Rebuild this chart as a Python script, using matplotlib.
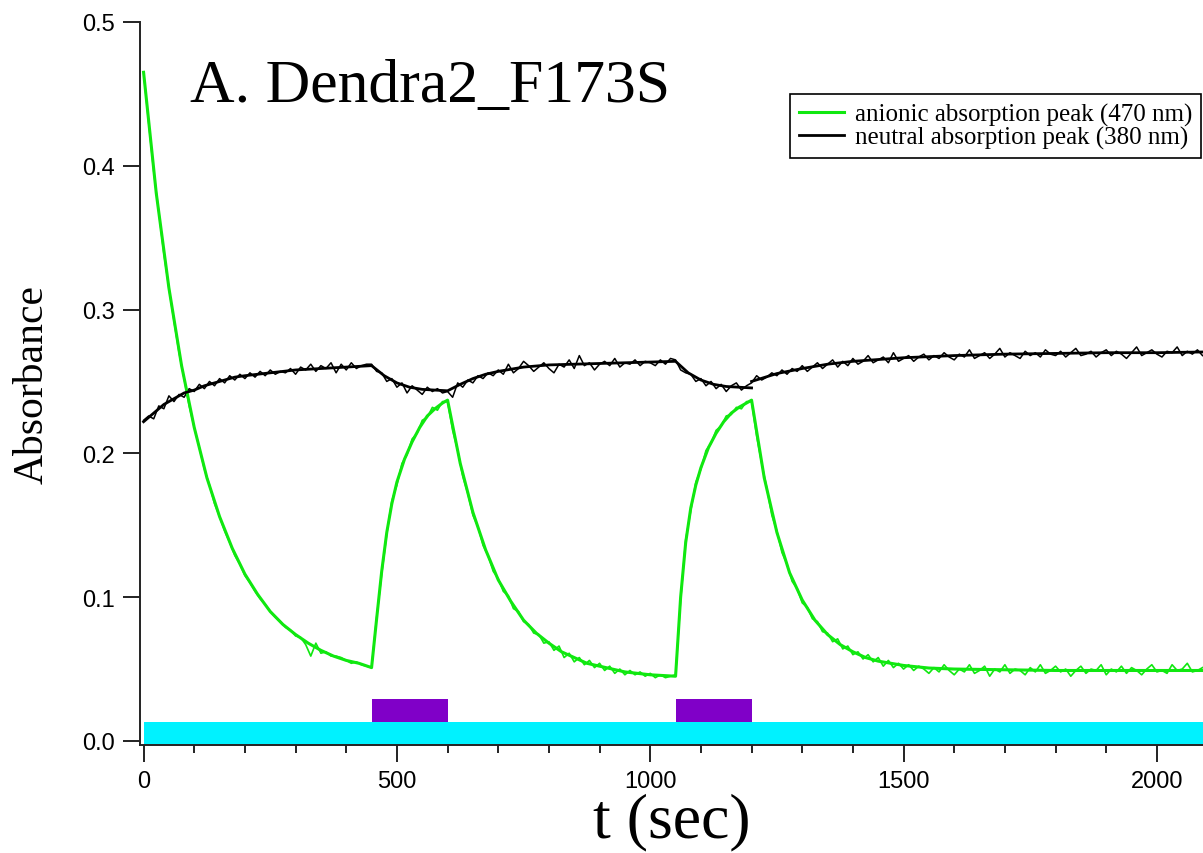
import matplotlib
matplotlib.use("Agg")
import matplotlib.pyplot as plt
from matplotlib.lines import Line2D
from matplotlib.ticker import MultipleLocator, FormatStrFormatter
import numpy as np

# raw data, one point every 10 s (rows = 100 s)
t_raw = np.arange(0, 2100, 10)
anionic_raw = [
    0.465, 0.430, 0.396, 0.368, 0.339, 0.315, 0.292, 0.270, 0.252, 0.233,
    0.218, 0.204, 0.189, 0.178, 0.165, 0.156, 0.146, 0.138, 0.129, 0.123,
    0.115, 0.110, 0.104, 0.099, 0.095, 0.090, 0.086, 0.083, 0.079, 0.077,
    0.073, 0.072, 0.067, 0.059, 0.068, 0.061, 0.062, 0.059, 0.059, 0.058,
    0.056, 0.054, 0.055, 0.053, 0.052, 0.051, 0.086, 0.116, 0.144, 0.167,
    0.178, 0.193, 0.199, 0.210, 0.214, 0.223, 0.225, 0.232, 0.230, 0.236,
    0.236, 0.216, 0.202, 0.184, 0.172, 0.157, 0.149, 0.136, 0.129, 0.118,
    0.113, 0.104, 0.101, 0.092, 0.090, 0.083, 0.081, 0.075, 0.074, 0.068,
    0.069, 0.063, 0.066, 0.058, 0.061, 0.055, 0.058, 0.053, 0.056, 0.051,
    0.054, 0.049, 0.052, 0.047, 0.050, 0.046, 0.049, 0.046, 0.048, 0.045,
    0.047, 0.044, 0.046, 0.044, 0.045, 0.046, 0.098, 0.140, 0.160, 0.180,
    0.189, 0.202, 0.207, 0.216, 0.219, 0.226, 0.227, 0.232, 0.231, 0.236,
    0.236, 0.212, 0.193, 0.176, 0.157, 0.146, 0.131, 0.123, 0.111, 0.106,
    0.096, 0.093, 0.085, 0.083, 0.076, 0.075, 0.069, 0.071, 0.064, 0.066,
    0.060, 0.062, 0.057, 0.060, 0.055, 0.058, 0.052, 0.056, 0.051, 0.054,
    0.050, 0.053, 0.049, 0.052, 0.050, 0.047, 0.051, 0.048, 0.053, 0.049,
    0.046, 0.050, 0.048, 0.053, 0.047, 0.049, 0.052, 0.045, 0.050, 0.048,
    0.053, 0.047, 0.050, 0.049, 0.046, 0.051, 0.048, 0.053, 0.047, 0.049,
    0.052, 0.048, 0.050, 0.045, 0.049, 0.052, 0.047, 0.050, 0.049, 0.053,
    0.046, 0.050, 0.048, 0.052, 0.047, 0.051, 0.049, 0.046, 0.050, 0.053,
    0.048, 0.049, 0.047, 0.053, 0.049, 0.050, 0.054, 0.048, 0.049, 0.051,
]
neutral_raw = [
    0.223, 0.226, 0.224, 0.233, 0.231, 0.240, 0.236, 0.241, 0.239, 0.245,
    0.243, 0.248, 0.245, 0.250, 0.247, 0.252, 0.249, 0.254, 0.251, 0.255,
    0.252, 0.256, 0.253, 0.257, 0.254, 0.258, 0.255, 0.257, 0.256, 0.259,
    0.255, 0.260, 0.258, 0.262, 0.257, 0.261, 0.259, 0.263, 0.256, 0.262,
    0.258, 0.263, 0.259, 0.261, 0.262, 0.262, 0.257, 0.256, 0.250, 0.252,
    0.246, 0.249, 0.242, 0.247, 0.244, 0.241, 0.246, 0.243, 0.245, 0.242,
    0.243, 0.239, 0.249, 0.246, 0.251, 0.249, 0.254, 0.252, 0.256, 0.254,
    0.258, 0.255, 0.262, 0.256, 0.259, 0.264, 0.261, 0.257, 0.260, 0.263,
    0.259, 0.256, 0.262, 0.260, 0.265, 0.259, 0.268, 0.261, 0.263, 0.258,
    0.262, 0.264, 0.261, 0.266, 0.260, 0.263, 0.262, 0.265, 0.261, 0.264,
    0.263, 0.261, 0.265, 0.262, 0.266, 0.265, 0.258, 0.256, 0.255, 0.250,
    0.252, 0.247, 0.250, 0.245, 0.248, 0.243, 0.247, 0.249, 0.244, 0.247,
    0.249, 0.254, 0.251, 0.253, 0.256, 0.254, 0.258, 0.255, 0.259, 0.257,
    0.261, 0.257, 0.260, 0.263, 0.259, 0.262, 0.265, 0.260, 0.264, 0.261,
    0.266, 0.262, 0.264, 0.268, 0.263, 0.265, 0.267, 0.263, 0.270, 0.264,
    0.266, 0.268, 0.264, 0.267, 0.269, 0.265, 0.268, 0.266, 0.270, 0.267,
    0.265, 0.269, 0.267, 0.272, 0.266, 0.268, 0.270, 0.266, 0.269, 0.273,
    0.267, 0.270, 0.268, 0.266, 0.271, 0.268, 0.270, 0.267, 0.272, 0.269,
    0.268, 0.271, 0.267, 0.270, 0.273, 0.268, 0.269, 0.271, 0.267, 0.270,
    0.272, 0.268, 0.271, 0.269, 0.266, 0.270, 0.274, 0.268, 0.270, 0.272,
    0.269, 0.267, 0.271, 0.270, 0.274, 0.268, 0.271, 0.269, 0.272, 0.268,
]

# fitted curves
anionic_fit_t = [0, 25, 50, 75, 100, 125, 150, 175, 200, 225, 250, 275, 300, 325, 350, 375, 400, 425, 450,
                 460, 470, 480, 490, 500, 515, 530, 545, 560, 575, 590, 600,
                 625, 650, 675, 700, 725, 750, 775, 800, 825, 850, 875, 900, 925, 950, 975, 1000, 1025, 1050,
                 1060, 1070, 1080, 1090, 1100, 1115, 1130, 1145, 1160, 1175, 1190, 1200,
                 1225, 1250, 1275, 1300, 1325, 1350, 1375, 1400, 1425, 1450, 1475, 1500, 1550, 1600, 1700,
                 1800, 1900, 2000, 2090]
anionic_fit = [0.465, 0.381, 0.315, 0.261, 0.218, 0.183, 0.156, 0.134, 0.116, 0.102, 0.090, 0.081, 0.074,
               0.068, 0.063, 0.059, 0.056, 0.054, 0.051,
               0.085, 0.118, 0.145, 0.165, 0.180, 0.196, 0.208, 0.218, 0.226, 0.231, 0.235, 0.237,
               0.193, 0.159, 0.133, 0.112, 0.097, 0.084, 0.075, 0.068, 0.062, 0.058, 0.054, 0.052, 0.050,
               0.048, 0.047, 0.046, 0.0455, 0.045,
               0.100, 0.138, 0.162, 0.178, 0.190, 0.204, 0.214, 0.222, 0.228, 0.232, 0.235, 0.237,
               0.183, 0.145, 0.117, 0.098, 0.084, 0.074, 0.067, 0.062, 0.058, 0.0555, 0.054, 0.0525,
               0.0507, 0.050, 0.0495, 0.049, 0.049, 0.049, 0.049]

neutral_fit_t = [0, 10, 20, 30, 40, 50, 60, 70, 80, 90, 100, 120, 140, 160, 180, 200, 250, 300, 350, 400, 450,
                 475, 500, 525, 550, 575, 600,
                 625, 650, 675, 700, 750, 800, 850, 900, 950, 1000, 1050,
                 1075, 1100, 1125, 1150, 1175, 1200,
                 np.nan,
                 1200, 1250, 1300, 1350, 1400, 1500, 1600, 1700, 1800, 1900, 2000, 2090]
neutral_fit = [0.222, 0.225, 0.228, 0.231, 0.234, 0.236, 0.238, 0.240, 0.242, 0.243, 0.244, 0.247, 0.249,
               0.251, 0.253, 0.254, 0.256, 0.258, 0.259, 0.260, 0.261,
               0.254, 0.249, 0.246, 0.2445, 0.244, 0.2435,
               0.248, 0.252, 0.255, 0.257, 0.260, 0.2615, 0.262, 0.2625, 0.263, 0.2635, 0.264,
               0.256, 0.251, 0.248, 0.2465, 0.246, 0.2455,
               np.nan,
               0.250, 0.2555, 0.259, 0.262, 0.264, 0.2665, 0.268, 0.269, 0.2695, 0.270, 0.270, 0.2705]

# illumination bars (start, length)
cyan_span = (0, 2200)
violet_spans = [(450, 150), (1050, 150)]

green = "#10E810"
serif = "Liberation Serif"

fig = plt.figure(figsize=(12.03, 8.54), dpi=100)
ax = fig.add_axes([0.1164, 0.1265, 0.8836, 0.8466])

ax.bar(cyan_span[0], 0.0158, width=cyan_span[1], bottom=-0.0023, align="edge",
       color="#00F2FF", linewidth=0)
for start, length in violet_spans:
    ax.bar(start, 0.0155, width=length, bottom=0.0135, align="edge", color="#8000C8", linewidth=0)

ax.plot(t_raw, anionic_raw, color=green, lw=1.2)
ax.plot(t_raw, neutral_raw, color="black", lw=1.1)
ax.plot(anionic_fit_t, anionic_fit, color=green, lw=2.2)
ax.plot(neutral_fit_t, neutral_fit, color="black", lw=2.0)

ax.set_xlim(-7, 2091)
ax.set_ylim(-0.0028, 0.5)

for s in ["top", "right"]:
    ax.spines[s].set_visible(False)
for s in ["left", "bottom"]:
    ax.spines[s].set_linewidth(1.4)
    ax.spines[s].set_color("#222222")

ax.xaxis.set_major_locator(MultipleLocator(500))
ax.xaxis.set_minor_locator(MultipleLocator(100))
ax.yaxis.set_major_locator(MultipleLocator(0.1))
ax.yaxis.set_major_formatter(FormatStrFormatter("%.1f"))
ax.tick_params(axis="both", which="major", direction="out", length=12, width=1.4,
               labelsize=17, pad=6, color="#222222")
ax.tick_params(axis="x", which="minor", direction="out", length=6, width=1.4, color="#222222")
for lab in ax.get_xticklabels() + ax.get_yticklabels():
    lab.set_fontfamily("Liberation Sans")

ax.set_xlabel("t (sec)", fontfamily=serif, fontsize=46, labelpad=0)
ax.set_ylabel("Absorbance", fontfamily=serif, fontsize=30, labelpad=22)

fig.text(190 / 1203, 1 - 102 / 854, "A. Dendra2_F173S", fontfamily=serif, fontsize=44.5,
         ha="left", va="baseline")

handles = [Line2D([], [], color=green, lw=2.2), Line2D([], [], color="black", lw=2)]
labels = ["anionic absorption peak (470 nm)", "neutral absorption peak (380 nm)"]
leg = ax.legend(handles, labels, loc="upper right", bbox_to_anchor=(1201 / 1203, 1 - 95 / 854),
                bbox_transform=fig.transFigure, prop={"family": serif, "size": 18},
                fancybox=False, framealpha=1, edgecolor="black", handlelength=1.8,
                handletextpad=0.45, borderpad=0.35, labelspacing=0.02, borderaxespad=0)
leg.get_frame().set_linewidth(1.2)

fig.savefig("out.png", dpi=100)
